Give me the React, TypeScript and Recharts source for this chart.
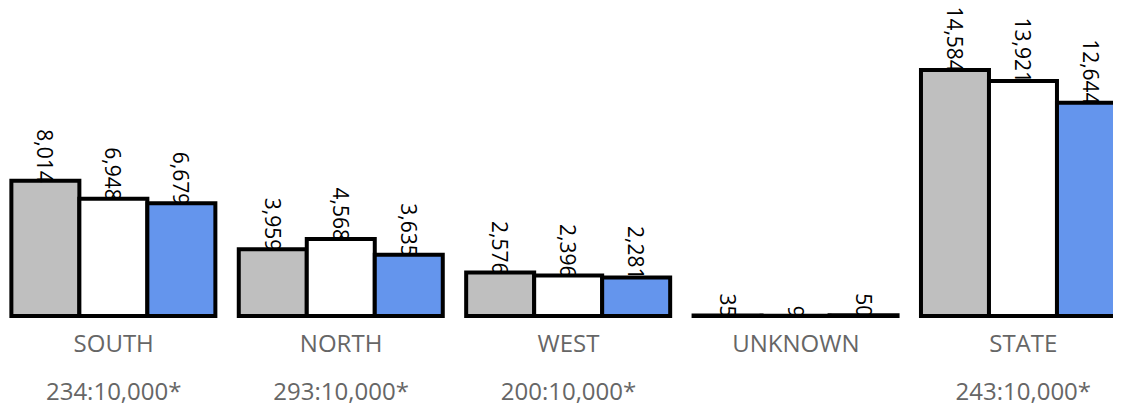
import React from 'react';
import { BarChart, Bar, XAxis, YAxis, LabelList, Legend } from 'recharts';

const categories = ['SOUTH', 'NORTH', 'WEST', 'UNKNOWN', 'STATE'];
const ratios = ['234:10,000*', '293:10,000*', '200:10,000*', '', '243:10,000*'];
const seriesA = [8014, 3959, 2576, 35, 14584];
const seriesB = [6948, 4568, 2396, 9, 13921];
const seriesC = [6679, 3635, 2281, 50, 12644];

const data = categories.map((c, i) => ({
  name: c,
  ratio: ratios[i],
  a: seriesA[i],
  b: seriesB[i],
  c: seriesC[i],
}));

const FONT = '"Open Sans", "Segoe UI", sans-serif';

const ValueLabel = (props: any) => {
  const { x, y, width, value } = props;
  const cx = x + width / 2;
  const cy = y + 2;
  return (
    <text
      x={cx}
      y={cy}
      transform={`rotate(90, ${cx}, ${cy})`}
      textAnchor="end"
      dominantBaseline="central"
      fontFamily={FONT}
      fontSize={21}
      fill="#000"
    >
      {Number(value).toLocaleString('en-US')}
    </text>
  );
};

const Tick = (props: any) => {
  const { x, payload, index } = props;
  return (
    <g>
      <text x={x} y={352} textAnchor="middle" fontFamily={FONT} fontSize={24} fill="#666">
        {payload.value}
      </text>
      <text x={x} y={400} textAnchor="middle" fontFamily={FONT} fontSize={24} fill="#666">
        {ratios[index]}
      </text>
    </g>
  );
};

const legendOffsets = [190, 474];

const ClippedLegend = () => (
  <div style={{ position: 'relative', height: 0 }}>
    {legendOffsets.map((l) => (
      <div
        key={l}
        style={{
          position: 'absolute',
          left: l,
          top: -18,
          width: 42,
          height: 20,
          borderBottom: '2px solid #8c8c8c',
          boxSizing: 'border-box',
        }}
      />
    ))}
  </div>
);

export default function App() {
  return (
    <div style={{ marginLeft: -8, marginTop: -8, width: 1137, height: 412 }}>
      <BarChart
        width={1137}
        height={412}
        data={data}
        margin={{ top: 46, right: 0, bottom: 0, left: 0 }}
        barCategoryGap="5%"
        barGap={0}
      >
        <Legend
          verticalAlign="top"
          content={<ClippedLegend />}
          wrapperStyle={{ top: 0, left: 0, height: 0 }}
        />
        <XAxis dataKey="name" axisLine={false} tickLine={false} height={96} tick={<Tick />} interval={0} />
        <YAxis hide domain={[0, 16000]} />
        <Bar dataKey="a" fill="#bfbfbf" stroke="#000" strokeWidth={4} isAnimationActive={false}>
          <LabelList dataKey="a" content={<ValueLabel />} />
        </Bar>
        <Bar dataKey="b" fill="#ffffff" stroke="#000" strokeWidth={4} isAnimationActive={false}>
          <LabelList dataKey="b" content={<ValueLabel />} />
        </Bar>
        <Bar dataKey="c" fill="#6495ed" stroke="#000" strokeWidth={4} isAnimationActive={false}>
          <LabelList dataKey="c" content={<ValueLabel />} />
        </Bar>
      </BarChart>
    </div>
  );
}
